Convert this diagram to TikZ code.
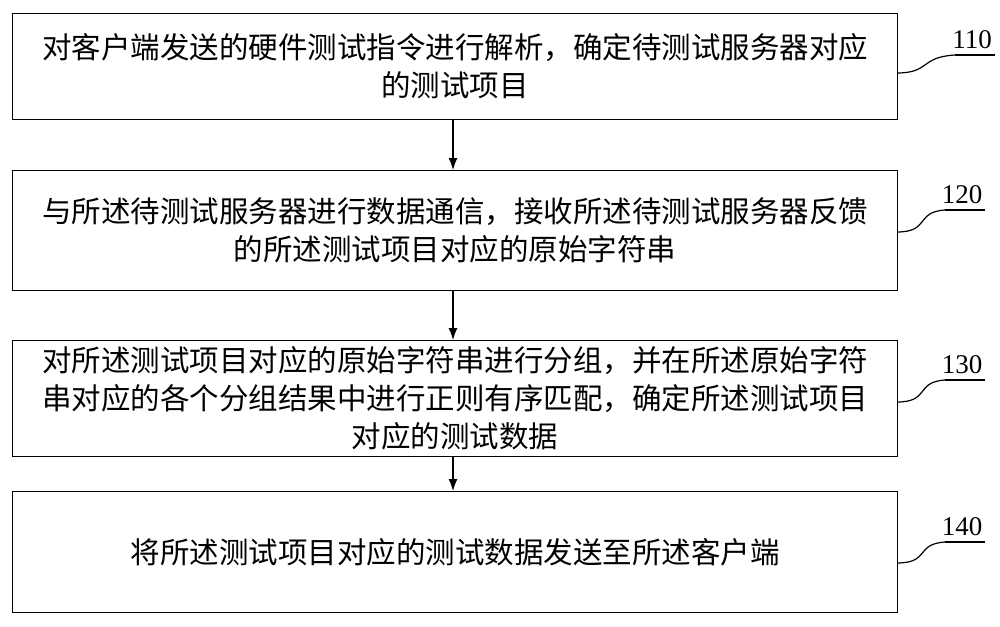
\documentclass[tikz,border=0pt]{standalone}
\usepackage{fontspec}
\newfontfamily\cjk{Noto Sans CJK SC}
\setmainfont{Liberation Serif}
\usetikzlibrary{arrows.meta}
\begin{document}
\begin{tikzpicture}[x=1pt,y=-1pt]
\tikzset{box/.style={draw,line width=1.2pt,minimum width=885pt,anchor=north west,inner sep=0pt,align=center,font=\cjk\fontsize{29.5}{38}\selectfont},
arr/.style={-{Latex[length=12pt,width=9pt]},line width=1.2pt},
lead/.style={line width=1.2pt},
lab/.style={font=\fontsize{27}{27}\selectfont}}
\useasboundingbox (0,0) rectangle (1000,626);
\node[box,minimum height=106pt] (b1) at (12,13) {对客户端发送的硬件测试指令进行解析，确定待测试服务器对应\\的测试项目};
\node[box,minimum height=120pt] (b2) at (12,170) {与所述待测试服务器进行数据通信，接收所述待测试服务器反馈\\的所述测试项目对应的原始字符串};
\node[box,minimum height=116pt] (b3) at (12,340) {对所述测试项目对应的原始字符串进行分组，并在所述原始字符\\串对应的各个分组结果中进行正则有序匹配，确定所述测试项目\\对应的测试数据};
\node[box,minimum height=121pt] (b4) at (12,491) {将所述测试项目对应的测试数据发送至所述客户端};
\draw[arr] (453,119) -- (b2.north -| 453,0);
\draw[arr] (453,290) -- (b3.north -| 453,0);
\draw[arr] (453,456) -- (b4.north -| 453,0);
\node[lab] (l1) at (972,40) {110};
\node[lab] (l2) at (962,195) {120};
\node[lab] (l3) at (962,365) {130};
\node[lab] (l4) at (962,527) {140};
\coordinate (c1) at (955,55);
\coordinate (c2) at (945,210);
\coordinate (c3) at (945,380);
\coordinate (c4) at (945,542);
\draw[lead] (897,73) .. controls (930,73) and (920,57) .. (c1);
\draw[lead] (897,232) .. controls (930,232) and (915,212) .. (c2);
\draw[lead] (897,402) .. controls (930,402) and (915,382) .. (c3);
\draw[lead] (897,563) .. controls (930,563) and (915,544) .. (c4);
\draw[lead] (c1) -- ++(40,0);
\draw[lead] (c2) -- ++(40,0);
\draw[lead] (c3) -- ++(40,0);
\draw[lead] (c4) -- ++(40,0);
\end{tikzpicture}
\end{document}
